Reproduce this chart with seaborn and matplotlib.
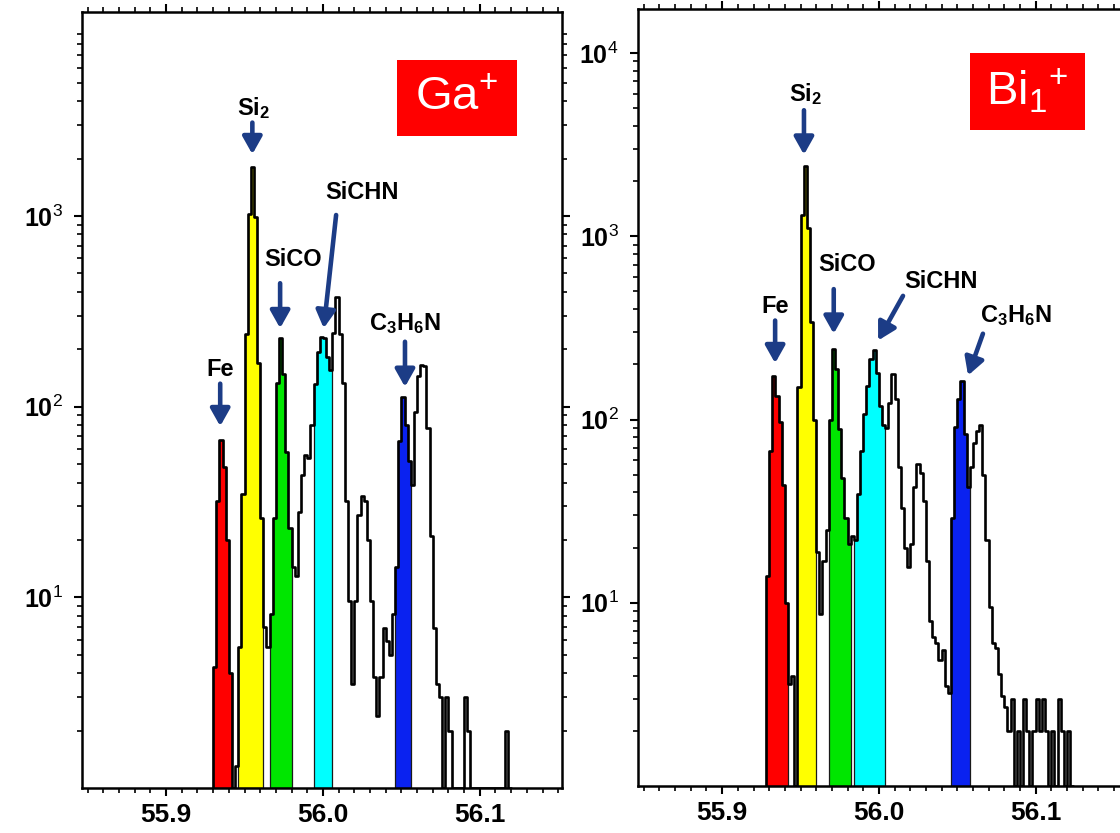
import numpy as np
import pandas as pd
import matplotlib
matplotlib.use("Agg")
import matplotlib.pyplot as plt
import seaborn as sns
from matplotlib.patches import Rectangle
from matplotlib.ticker import LogLocator, FixedLocator, NullFormatter, MultipleLocator

# ---------------- spectra (counts per 0.002 u bin) ----------------
BIN_WIDTH = 0.002

ga_start = 55.930
ga_counts = [4.3, 32, 67, 48, 20, 4, 1, 1.3, 5.5, 35,
             240, 1030, 1810, 990, 170, 26, 7, 5.5, 8.2, 26,
             133, 228, 149, 58, 23, 14.4, 13, 28, 44, 56,
             54, 80, 132, 194, 233, 228, 183, 155, 242, 377,
             240, 133, 32, 9.6, 3.5, 9.6, 27, 34, 32, 20,
             9.6, 3.8, 2.4, 3.8, 6.9, 5.9, 5, 8.2, 14.4, 66,
             112, 80, 52, 39, 94, 144, 165, 163, 77, 21,
             6.9, 3.5, 3, 1, 3, 2, 1, 1, 1, 1,
             3, 2, 1, 1, 1, 1, 1, 1, 1, 1,
             1, 1, 1, 2, 1]

bi_start = 55.928
bi_counts = [14, 67, 173, 134, 97, 44, 10, 3.6, 4, 1,
             150, 1310, 2430, 1110, 340, 100, 19, 8.7, 17, 25,
             100, 244, 189, 89, 48, 29, 21, 23, 22, 39,
             67, 107, 152, 214, 240, 180, 118, 93, 90, 123,
             177, 129, 55, 33, 20, 15.6, 21, 43, 57, 51,
             36, 17, 8, 6.5, 6, 4.9, 5.5, 3.5, 3.2, 29,
             91, 129, 163, 83, 43, 55, 74, 87, 93, 50,
             22, 9.5, 6, 5.7, 4.1, 3.1, 2.7, 2, 3, 1,
             2, 1, 3, 2, 1, 2, 3, 2, 3, 2,
             1, 2, 1, 3, 2, 1, 2, 1]

# integration windows (mass range) of the assigned peaks
peak_labels = ["Fe", r"Si$_\mathbf{2}$", "SiCO", "SiCHN",
               r"C$_\mathbf{3}$H$_\mathbf{6}$N"]
peak_colors = ["#ff0000", "#ffff00", "#00e600", "#00ffff", "#0a22f0"]
ga_windows = [(55.930, 55.942), (55.946, 55.962), (55.966, 55.980),
              (55.994, 56.006), (56.046, 56.056)]
bi_windows = [(55.928, 55.942), (55.948, 55.960), (55.968, 55.982),
              (55.984, 56.004), (56.046, 56.058)]

# annotation layout: label centre, arrow tail, arrow tip (mass, counts)
ga_notes = [((55.9345, 156), (55.9345, 132), (55.9345, 79)),
            ((55.9556, 3670), (55.9550, 3090), (55.9550, 2110)),
            ((55.9811, 590), (55.9727, 444), (55.9727, 258)),
            ((56.0248, 1325), (56.0084, 1012), (56.0005, 258)),
            ((56.0523, 274), (56.0523, 219), (56.0523, 127))]
bi_notes = [((55.9338, 412), (55.9338, 347), (55.9338, 203)),
            ((55.9531, 5970), (55.9522, 4875), (55.9522, 2790)),
            ((55.9798, 698), (55.9712, 515), (55.9712, 294)),
            ((56.0397, 570), (56.0154, 473), (55.9995, 270)),
            ((56.0875, 371), (56.0664, 294), (56.0569, 174))]

GA_XLIM = (55.8464, 56.1524)
BI_XLIM = (55.8463, 56.1545)
xtick_values = [55.9, 56.0, 56.1]
xtick_labels = ["55.9", "56.0", "56.1"]

NAVY = "#1c3c86"

sns.set_theme(style="ticks")
plt.rcParams["font.family"] = ["Liberation Sans", "DejaVu Sans"]
plt.rcParams["mathtext.fontset"] = "custom"
plt.rcParams["mathtext.rm"] = "Liberation Sans"
plt.rcParams["mathtext.bf"] = "Liberation Sans:bold"
plt.rcParams["mathtext.it"] = "Liberation Sans:italic"

W, H = 1120, 833
fig = plt.figure(figsize=(W / 100, H / 100), dpi=100)
ax_ga = fig.add_axes([82 / W, (H - 788) / H, 480 / W, 776 / H])
ax_bi = fig.add_axes([638 / W, (H - 786) / H, 483 / W, 777 / H])


def draw_panel(ax, start, counts, windows, notes, xlim, ylim, yticks, tag, box):
    counts = np.asarray(counts, dtype=float)
    edges = start + BIN_WIDTH * np.arange(len(counts) + 1)
    # step trace: rise from baseline at the first edge, hold last value
    xs = np.concatenate([[edges[0]], edges])
    ys = np.concatenate([[1.0], counts, [counts[-1]]])
    ax.set_yscale("log")

    for (lo, hi), col in zip(windows, peak_colors):
        sel = np.where((edges[:-1] >= lo - 1e-9) & (edges[1:] <= hi + 1e-9))[0]
        xf = edges[sel[0]: sel[-1] + 2]
        yf = np.concatenate([counts[sel], [counts[sel[-1]]]])
        ax.fill_between(xf, yf, 1.0, step="post", facecolor=col,
                        edgecolor="#1a1a1a", linewidth=0.9, zorder=2)

    df = pd.DataFrame({"mass": xs, "counts": ys})
    sns.lineplot(data=df, x="mass", y="counts", ax=ax, estimator=None,
                 sort=False, drawstyle="steps-post", color="black",
                 linewidth=1.9, zorder=3)

    for label, (txt, tail, tip) in zip(peak_labels, notes):
        ax.text(txt[0], txt[1], label, ha="center", va="center",
                fontsize=17, fontweight="bold", color="black", zorder=5)
        ax.annotate("", xy=tip, xytext=tail, zorder=5,
                    arrowprops=dict(arrowstyle="-|>,head_width=0.45,head_length=0.8",
                                    color=NAVY, lw=3.3, mutation_scale=13,
                                    shrinkA=0, shrinkB=0))

    (bx0, by0, bx1, by1) = box
    ax.add_patch(Rectangle((bx0, by0), bx1 - bx0, by1 - by0, facecolor="#ff0000",
                           edgecolor="none", zorder=4))
    ax.text((bx0 + bx1) / 2, np.sqrt(by0 * by1), tag, ha="center", va="center",
            color="white", fontsize=34, zorder=5)

    ax.set_xlim(*xlim)
    ax.set_ylim(*ylim)
    ax.set_xlabel("")
    ax.set_ylabel("")
    ax.set_xticks(xtick_values)
    ax.set_xticklabels(xtick_labels, fontsize=19, fontweight="bold")
    ax.xaxis.set_minor_locator(MultipleLocator(0.01))
    ax.yaxis.set_major_locator(FixedLocator(yticks))
    ax.set_yticklabels([r"$\mathbf{10}^{\mathrm{%d}}$" % int(np.log10(v)) for v in yticks],
                       fontsize=18)
    ax.yaxis.set_minor_locator(LogLocator(base=10, subs=np.arange(2, 10), numticks=20))
    ax.yaxis.set_minor_formatter(NullFormatter())
    ax.tick_params(axis="both", which="major", direction="out", length=6, width=1.5,
                   color="black", top=True, right=True, labelcolor="black")
    ax.tick_params(axis="x", which="major", pad=5)
    ax.tick_params(axis="y", which="major", pad=8)
    ax.tick_params(axis="both", which="minor", direction="out", length=3.5, width=1.2,
                   top=True, right=True, color="black")
    for sp in ax.spines.values():
        sp.set_visible(True)
        sp.set_linewidth(1.8)
        sp.set_color("black")
    ax.set_facecolor("white")


draw_panel(ax_ga, ga_start, ga_counts, ga_windows, ga_notes, GA_XLIM, (1, 11750),
           [10, 100, 1000], r"Ga$^{+}$", (56.047, 2630, 56.1238, 6580))
draw_panel(ax_bi, bi_start, bi_counts, bi_windows, bi_notes, BI_XLIM, (1, 17400),
           [10, 100, 1000, 10000], r"Bi$_{1}{}^{+}$", (56.058, 3785, 56.1315, 10000))

fig.savefig("out.png", dpi=100, facecolor="white")
